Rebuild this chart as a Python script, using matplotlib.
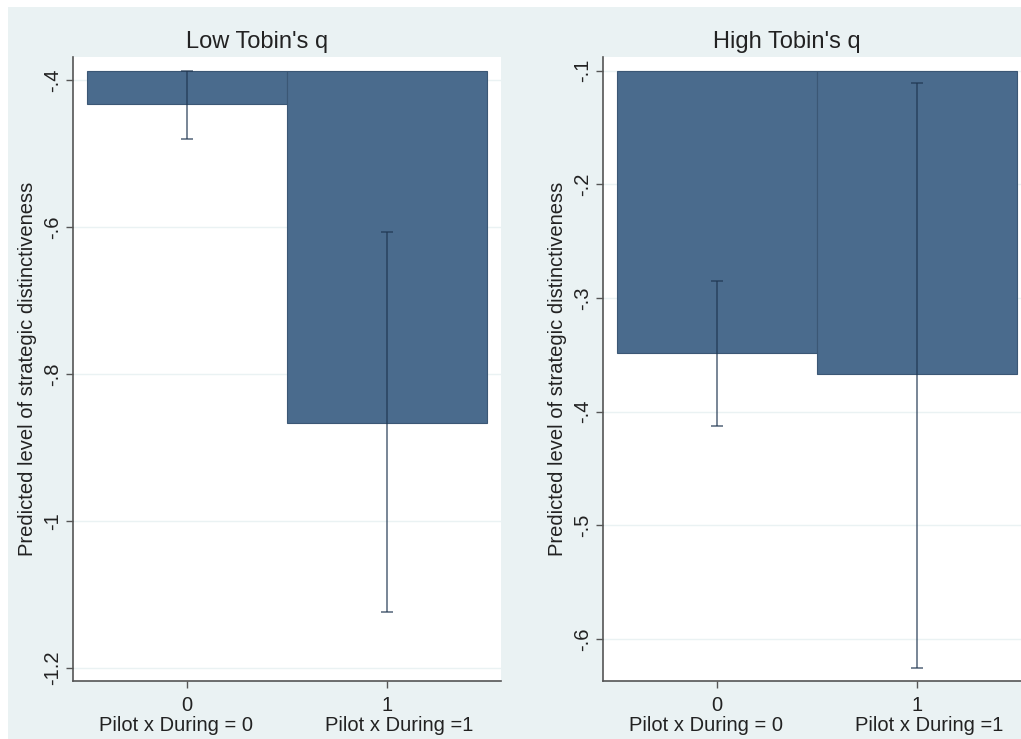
import matplotlib.pyplot as plt
from matplotlib.patches import Rectangle

plt.rcParams['font.family'] = ['Liberation Sans', 'DejaVu Sans']

# predicted margins with 95% CI, by Tobin's q group
groups = ['Low Tobin\'s q', 'High Tobin\'s q']
positions = [0, 1]
xticklabels = ['0', '1']
xnotes = ['Pilot x During = 0', 'Pilot x During =1']

low_pred = [-0.433, -0.867]
low_ci_lo = [-0.480, -1.125]
low_ci_hi = [-0.387, -0.607]
low_ticks = [-1.2, -1.0, -0.8, -0.6, -0.4]
low_ticklabels = ['-1.2', '-1', '-.8', '-.6', '-.4']

high_pred = [-0.348, -0.367]
high_ci_lo = [-0.413, -0.625]
high_ci_hi = [-0.285, -0.111]
high_ticks = [-0.6, -0.5, -0.4, -0.3, -0.2, -0.1]
high_ticklabels = ['-.6', '-.5', '-.4', '-.3', '-.2', '-.1']

W, H = 1021, 739
BG = '#EAF2F3'
BAR = '#4A6B8D'
TXT = '#222222'

fig = plt.figure(figsize=(W / 100, H / 100), dpi=100)
fig.patch.set_facecolor('white')
fig.patches.append(Rectangle((8 / W, 0), 1, (H - 7) / H, transform=fig.transFigure,
                             facecolor=BG, edgecolor='none', zorder=-10))


def panel(left, title, title_x, pred, lo, hi, ticks, ticklabels):
    ax = fig.add_axes([left / W, 58 / H, 428 / W, 624 / H])
    ax.set_facecolor('white')
    # bars hang from the top of the y range, as Stata clips them there
    top = max(max(ticks), max(hi))
    bottom = min(min(ticks), min(lo))
    pad = (top - bottom) * 13.5 / 597
    ax.set_ylim(bottom - pad, top + pad)
    ax.set_xlim(-0.57, 1.57)
    ax.bar(positions, [p - top for p in pred], bottom=top, width=1.0,
           color=BAR, edgecolor='#3B5775', linewidth=0.8, zorder=2)
    ax.errorbar(positions, pred,
                yerr=[[p - l for p, l in zip(pred, lo)], [h - p for p, h in zip(pred, hi)]],
                fmt='none', ecolor='#1F3550', alpha=0.7, elinewidth=1.2,
                capsize=4, capthick=1.2, zorder=3)
    ax.set_yticks(ticks)
    ax.set_yticklabels(ticklabels, rotation=90, va='center', fontsize=14.5, color=TXT)
    ax.set_xticks(positions)
    ax.set_xticklabels(xticklabels, fontsize=14.5, color=TXT)
    # second line under each x tick, nudged off-centre
    for x, note, dx in zip(positions, xnotes, [-8, 9]):
        ax.annotate(note, xy=(x, 0), xycoords=('data', 'axes fraction'),
                    xytext=(dx, -32), textcoords='offset points',
                    ha='center', va='center', fontsize=14.5, color=TXT,
                    annotation_clip=False)
    ax.yaxis.grid(True, color=BG, linewidth=1, zorder=0)
    ax.set_axisbelow(True)
    ax.tick_params(axis='y', length=5, width=1, color='#555555', pad=3)
    ax.tick_params(axis='x', length=5, width=1, color='#555555', pad=6)
    for s in ['top', 'right']:
        ax.spines[s].set_visible(False)
    for s in ['left', 'bottom']:
        ax.spines[s].set_color('#555555')
        ax.spines[s].set_linewidth(1.2)
    ax.set_ylabel('Predicted level of strategic distinctiveness', fontsize=14.5,
                  color=TXT, labelpad=4)
    fig.text(title_x / W, 1 - 42 / H, title, ha='center', va='center',
             fontsize=17, color=TXT)
    return ax


panel(73, groups[0], 257, low_pred, low_ci_lo, low_ci_hi, low_ticks, low_ticklabels)
panel(603, groups[1], 787, high_pred, high_ci_lo, high_ci_hi, high_ticks, high_ticklabels)

fig.savefig('out.png', dpi=100)
